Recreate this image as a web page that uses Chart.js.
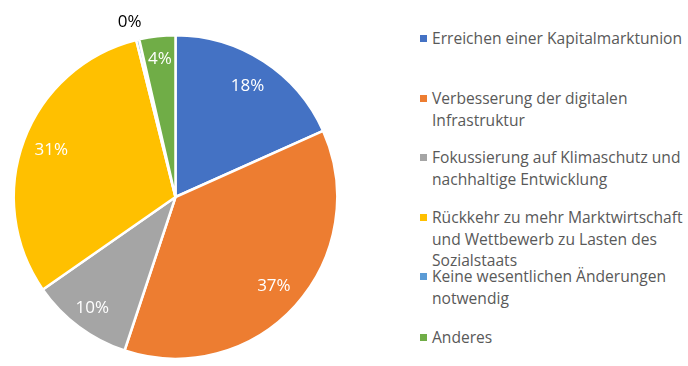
<!DOCTYPE html>
<html>
<head>
<meta charset="utf-8">
<script src="https://cdn.jsdelivr.net/npm/chart.js@4/dist/chart.umd.min.js"></script>
<style>
  html, body { margin: 0; padding: 0; background: #ffffff; }
  #wrap { position: relative; width: 688px; height: 366px; overflow: hidden; }
  #pie { position: absolute; left: 0; top: 0; }
  .leg { position: absolute; left: 420px; font-family: 'Open Sans', sans-serif; font-size: 15.6px; color: #595959; line-height: 21.5px; }
  .leg .sw { position: absolute; left: 0; top: 7px; width: 7px; height: 7px; }
  .leg .tx { position: absolute; left: 12px; white-space: nowrap; }
</style>
</head>
<body>
<div id="wrap">
  <canvas id="pie" width="351" height="366"></canvas>
  <div id="legend"></div>
</div>
<script>
const categories = [
  "Erreichen einer Kapitalmarktunion",
  "Verbesserung der digitalen Infrastruktur",
  "Fokussierung auf Klimaschutz und nachhaltige Entwicklung",
  "Rückkehr zu mehr Marktwirtschaft und Wettbewerb zu Lasten des Sozialstaats",
  "Keine wesentlichen Änderungen notwendig",
  "Anderes"
];
const legendLines = [
  ["Erreichen einer Kapitalmarktunion"],
  ["Verbesserung der digitalen", "Infrastruktur"],
  ["Fokussierung auf Klimaschutz und", "nachhaltige Entwicklung"],
  ["Rückkehr zu mehr Marktwirtschaft", "und Wettbewerb zu Lasten des", "Sozialstaats"],
  ["Keine wesentlichen Änderungen", "notwendig"],
  ["Anderes"]
];
const shares = [18.3, 36.8, 10.2, 30.8, 0.3, 3.6];
const sliceLabels = ["18%", "37%", "10%", "31%", "0%", "4%"];
const colors = ["#4472C4", "#ED7D31", "#A5A5A5", "#FFC000", "#5B9BD5", "#70AD47"];
const legendTops = [28, 88, 147, 207, 266, 327];

// HTML legend
const legEl = document.getElementById('legend');
legendLines.forEach((lines, i) => {
  const d = document.createElement('div');
  d.className = 'leg';
  d.style.top = legendTops[i] + 'px';
  const sw = document.createElement('div');
  sw.className = 'sw';
  sw.style.background = colors[i];
  d.appendChild(sw);
  lines.forEach((t, j) => {
    const s = document.createElement('div');
    s.className = 'tx';
    s.style.top = (j * 21.5) + 'px';
    s.textContent = t;
    d.appendChild(s);
  });
  legEl.appendChild(d);
});

const labelPlugin = {
  id: 'sliceLabels',
  afterDatasetsDraw(chart) {
    const ctx = chart.ctx;
    const meta = chart.getDatasetMeta(0);
    ctx.save();
    ctx.font = '17px "Open Sans", sans-serif';
    ctx.textAlign = 'center';
    ctx.textBaseline = 'middle';
    meta.data.forEach((arc, i) => {
      const p = arc.getProps(['x', 'y', 'startAngle', 'endAngle', 'outerRadius'], true);
      const mid = (p.startAngle + p.endAngle) / 2;
      let f = 0.82, col = '#ffffff';
      if (i === 4) { f = 1.11; col = '#000000'; }
      if (i === 5) { f = 0.86; }
      if (i === 2) { f = 0.86; }
      let x = p.x + Math.cos(mid) * p.outerRadius * f;
      const y = p.y + Math.sin(mid) * p.outerRadius * f;
      if (i === 4) x -= 4;
      ctx.fillStyle = col;
      ctx.fillText(sliceLabels[i], x, y);
    });
    ctx.restore();
  }
};

new Chart(document.getElementById('pie'), {
  type: 'pie',
  data: {
    labels: categories,
    datasets: [{
      data: shares,
      backgroundColor: colors,
      borderColor: '#ffffff',
      borderWidth: 2.5
    }]
  },
  options: {
    responsive: false,
    animation: false,
    layout: { padding: { top: 34, bottom: 6, left: 0, right: 0 } },
    plugins: { legend: { display: false }, tooltip: { enabled: false } }
  },
  plugins: [labelPlugin]
});
</script>
</body>
</html>
